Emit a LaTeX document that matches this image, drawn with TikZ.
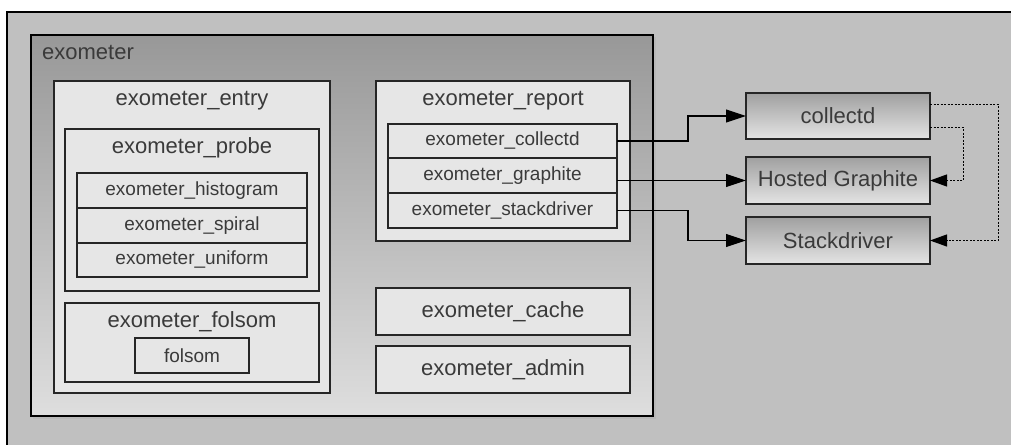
\documentclass[tikz,border=0pt]{standalone}
\usepackage{fontspec}
\setmainfont{Liberation Sans}
\usetikzlibrary{arrows.meta,calc}
\definecolor{bgfill}{HTML}{C0C0C0}
\definecolor{boxfill}{HTML}{E6E6E6}
\definecolor{txt}{HTML}{3A3A3A}
\definecolor{gtop}{HTML}{989898}
\definecolor{gbot}{HTML}{DEDEDE}
\definecolor{etop}{HTML}{A0A0A0}
\definecolor{ebot}{HTML}{E4E4E4}
\tikzset{
  cbox/.style={draw=black!85, fill=boxfill, line width=1.1pt, inner sep=0pt, outer sep=0pt, anchor=north west, text=txt},
  rowbox/.style={cbox, font=\fontsize{19}{22}\selectfont},
  bigbox/.style={cbox, font=\fontsize{22}{26}\selectfont},
  ttl/.style={text=txt, font=\fontsize{22}{26}\selectfont, inner sep=0pt},
  extbox/.style={draw=black!85, line width=1.1pt, top color=etop, bottom color=ebot, inner sep=0pt, outer sep=0pt, anchor=north west, text=txt, font=\fontsize{22}{26}\selectfont, minimum width=184pt, minimum height=46pt},
  arr/.style={line width=1.1pt, -{Triangle[length=20pt,width=13pt]}},
  darr/.style={line width=1pt, dash pattern=on 2pt off 1.5pt, -{Triangle[length=17pt,width=12pt]}}
}
\begin{document}
\begin{tikzpicture}[x=1pt,y=-1pt]
\useasboundingbox (0,0) rectangle (1011,444);
% outer background
\fill[white] (0,0) rectangle (1011,444);
\draw[fill=bgfill, line width=1.1pt] (7,12) rectangle (1030,460);
% exometer container
\fill[gray!60, opacity=0.5] (33,37) rectangle (656,419);
\node[draw=black, line width=1.8pt, top color=gtop, bottom color=gbot, inner sep=0pt, outer sep=0pt, anchor=north west, minimum width=622pt, minimum height=381pt] (exo) at (31,35) {};
\node[ttl, anchor=west] (exot) at (42,52) {exometer};
% exometer_entry
\node[cbox, minimum width=276pt, minimum height=312pt] (entry) at (54,81) {};
\node[ttl] (entryt) at (192,101) {exometer\_entry};
% exometer_probe
\node[cbox, minimum width=254pt, minimum height=162pt] (probe) at (65,129) {};
\node[ttl] (probet) at (192,148) {exometer\_probe};
\node[rowbox, minimum width=230pt, minimum height=35pt] (hist) at (77,173) {exometer\_histogram};
\node[rowbox, minimum width=230pt, minimum height=35pt] (spir) at (77,208) {exometer\_spiral};
\node[rowbox, minimum width=230pt, minimum height=34pt] (unif) at (77,243) {exometer\_uniform};
% exometer_folsom
\node[cbox, minimum width=254pt, minimum height=79pt] (folsomc) at (65,303) {};
\node[ttl] (folsomt) at (192,322) {exometer\_folsom};
\node[rowbox, minimum width=114pt, minimum height=35pt] (folsom) at (135,338) {folsom};
% exometer_report
\node[cbox, minimum width=254pt, minimum height=160pt] (report) at (376,81) {};
\node[ttl] (reportt) at (503,101) {exometer\_report};
\node[rowbox, minimum width=229pt, minimum height=34pt] (rcoll) at (388,124) {exometer\_collectd};
\node[rowbox, minimum width=229pt, minimum height=35pt] (rgraph) at (388,158) {exometer\_graphite};
\node[rowbox, minimum width=229pt, minimum height=35pt] (rstack) at (388,193) {exometer\_stackdriver};
% cache and admin
\node[bigbox, minimum width=254pt, minimum height=47pt] (cache) at (376,288) {exometer\_cache};
\node[bigbox, minimum width=254pt, minimum height=47pt] (admin) at (376,346) {exometer\_admin};
% external
\node[extbox] (collectd) at (746,93) {collectd};
\node[extbox, minimum height=47pt] (hg) at (746,157) {Hosted Graphite};
\node[extbox, minimum height=47pt] (sd) at (746,217) {Stackdriver};
% connectors
\coordinate (bx) at (688,0);
\draw[arr] (rcoll.east) -- (rcoll.east -| bx) |- (collectd.west);
\draw[arr] (hg.west -| rgraph.east) -- (hg.west);
\draw[arr] (rstack.east) -- (rstack.east -| bx) |- (sd.west);
\draw[darr] ([yshift=12pt]collectd.east) -| ($(sd.east)+(68,0)$) -- (sd.east);
\draw[darr] ([yshift=-11pt]collectd.east) -| ($(hg.east)+(33,0)$) -- (hg.east);
\end{tikzpicture}
\end{document}
